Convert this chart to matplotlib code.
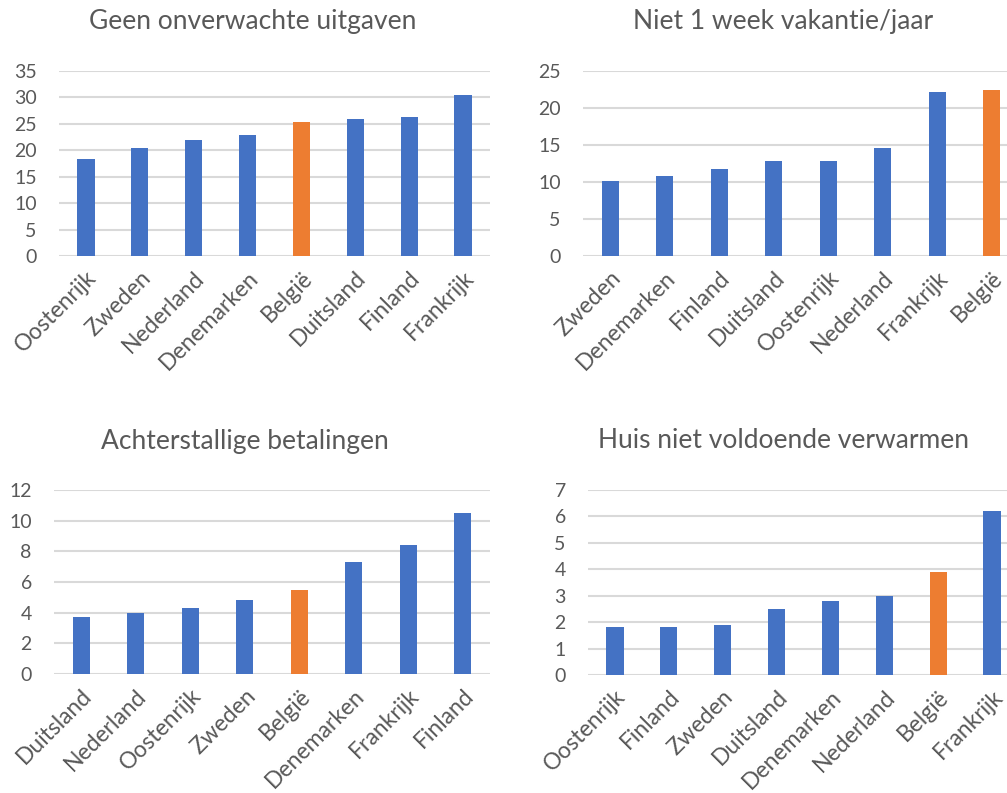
import numpy as np
import matplotlib
matplotlib.use('Agg')
import matplotlib.pyplot as plt

# %% DATA
titles = ['Geen onverwachte uitgaven', 'Niet 1 week vakantie/jaar',
          'Achterstallige betalingen', 'Huis niet voldoende verwarmen']

countries_1 = ['Oostenrijk', 'Zweden', 'Nederland', 'Denemarken', 'België', 'Duitsland', 'Finland', 'Frankrijk']
values_1 = [18.4, 20.4, 21.9, 22.8, 25.3, 26.0, 26.3, 30.5]

countries_2 = ['Zweden', 'Denemarken', 'Finland', 'Duitsland', 'Oostenrijk', 'Nederland', 'Frankrijk', 'België']
values_2 = [10.2, 10.8, 11.8, 12.8, 12.9, 14.6, 22.1, 22.4]

countries_3 = ['Duitsland', 'Nederland', 'Oostenrijk', 'Zweden', 'België', 'Denemarken', 'Frankrijk', 'Finland']
values_3 = [3.7, 4.0, 4.3, 4.8, 5.5, 7.3, 8.4, 10.5]

countries_4 = ['Oostenrijk', 'Finland', 'Zweden', 'Duitsland', 'Denemarken', 'Nederland', 'België', 'Frankrijk']
values_4 = [1.8, 1.8, 1.9, 2.5, 2.8, 3.0, 3.9, 6.2]

y_max = [35, 25, 12, 7]
y_step = [5, 5, 2, 1]

# %% STYLE
plt.rcParams['font.family'] = ['Lato', 'DejaVu Sans']
blue = '#4472C4'
orange = '#ED7D31'
text_col = '#595959'
grid_col = '#D9D9D9'

W, H = 1007, 793
fig = plt.figure(figsize=(W / 100, H / 100), dpi=100)

# axes boxes in pixels: left, right, top(ymax), bottom(y0)
boxes = [(59, 490, 71, 256), (583, 1019, 71, 256),
         (54, 490, 490, 674), (588, 1019, 490, 675)]
title_pos = [(253, 21), (783, 21), (245, 441), (783, 441)]

data = [(countries_1, values_1), (countries_2, values_2),
        (countries_3, values_3), (countries_4, values_4)]

for i, (cats, vals) in enumerate(data):
    l, r, t, b = boxes[i]
    ax = fig.add_axes([l / W, 1 - b / H, (r - l) / W, (b - t) / H])
    colors = [orange if c == 'België' else blue for c in cats]
    x = np.arange(len(cats))
    ax.bar(x, vals, width=0.32, color=colors, zorder=3)
    ax.set_xlim(-0.5, len(cats) - 0.5)
    ax.set_ylim(0, y_max[i])
    ax.set_yticks(np.arange(0, y_max[i] + 0.1, y_step[i]))
    ax.yaxis.grid(True, color=grid_col, linewidth=1.5, zorder=0)
    ax.set_axisbelow(True)
    for s in ax.spines.values():
        s.set_visible(False)
    ax.tick_params(axis='both', length=0, labelsize=14, colors=text_col)
    ax.tick_params(axis='y', pad=16)
    ax.set_xticks(x)
    ax.set_xticklabels(cats, rotation=45, ha='right', va='top',
                       rotation_mode='anchor', fontsize=16.5, color=text_col)
    ax.tick_params(axis='x', pad=8)
    tx, ty = title_pos[i]
    fig.text(tx / W, 1 - ty / H, titles[i], ha='center', va='center',
             fontsize=19, color=text_col)

fig.savefig('out.png', dpi=100)
